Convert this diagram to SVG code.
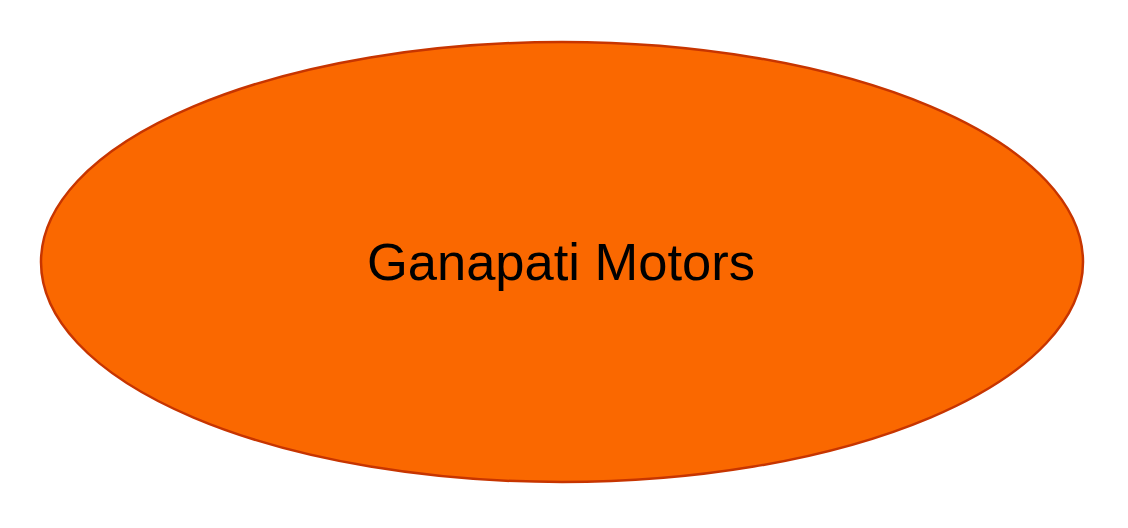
<svg xmlns="http://www.w3.org/2000/svg" width="1128" height="528" viewBox="0 0 1128 528">
<style>
.node{fill:#FA6800;stroke:#C73500;stroke-width:2.5}
.label{font-family:"Liberation Sans",Arial,sans-serif;font-size:52.5px;fill:#000000;text-anchor:middle}
</style>
<rect width="1128" height="528" fill="#ffffff"/>
<g id="connectors"></g>
<g id="ganapati-motors">
<ellipse class="node" cx="562" cy="262" rx="521" ry="220"/>
<text class="label" x="561" y="280">Ganapati Motors</text>
</g>
</svg>
